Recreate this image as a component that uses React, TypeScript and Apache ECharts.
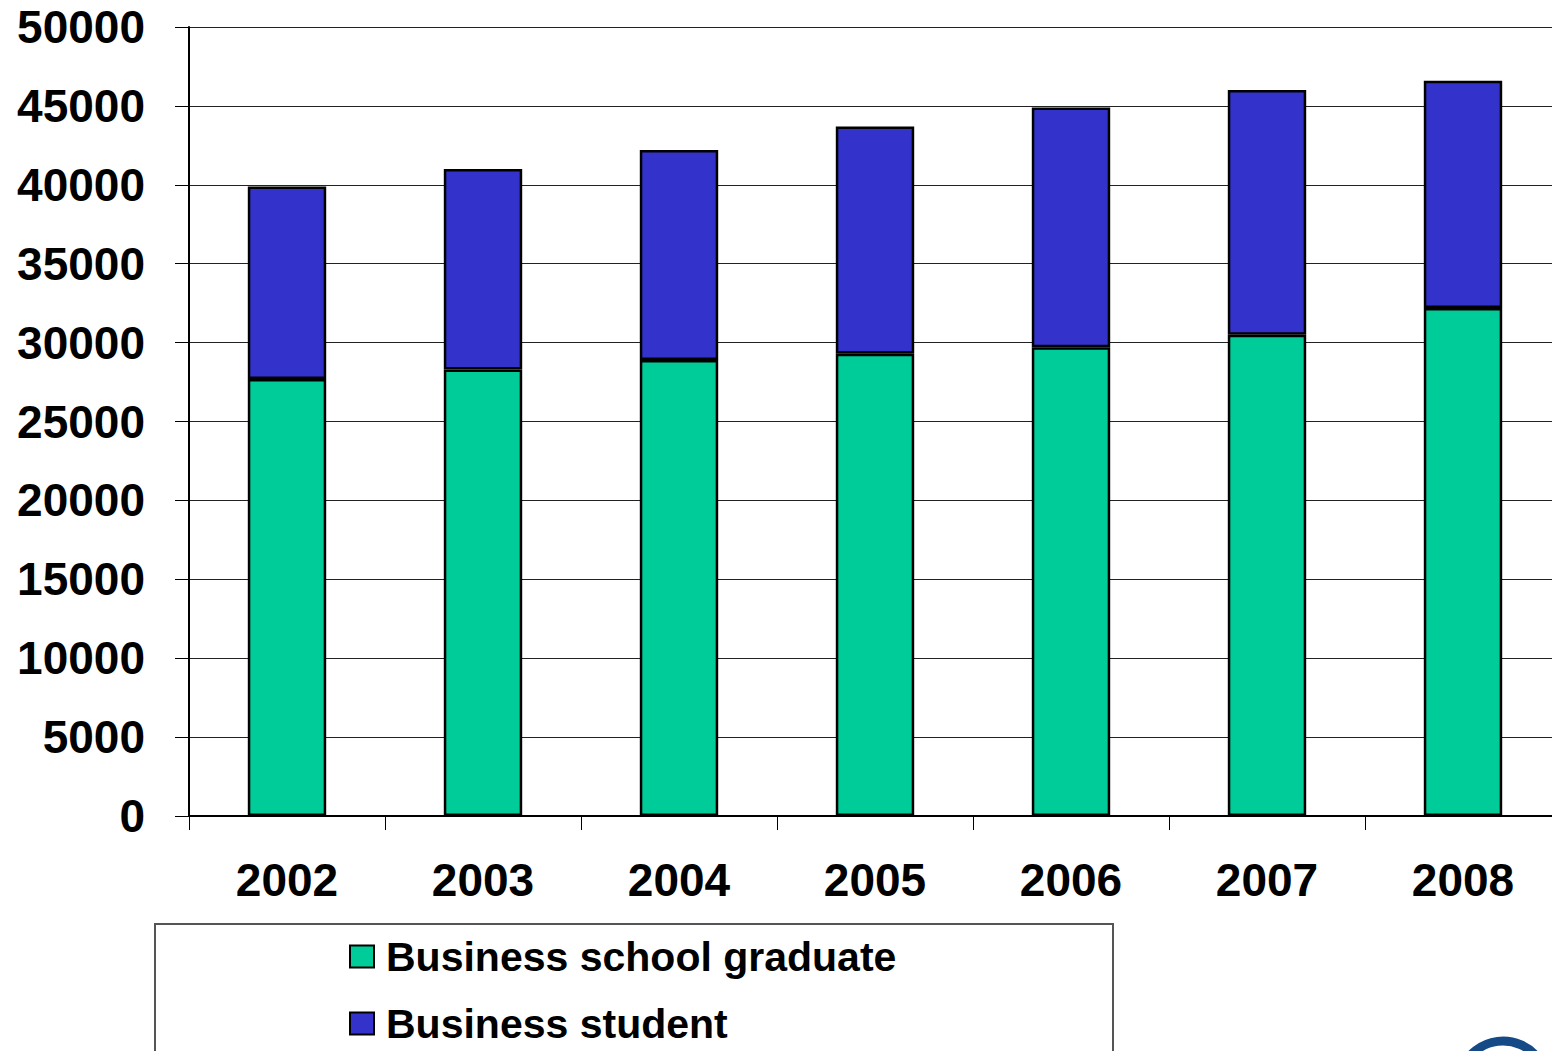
import React, { useEffect, useRef } from "react";
import * as echarts from "echarts";

const years = ["2002", "2003", "2004", "2005", "2006", "2007", "2008"];
const graduates = [27700, 28300, 28900, 29300, 29700, 30500, 32200];
const students = [12200, 12700, 13300, 14400, 15200, 15500, 14400];
const seriesNames = ["Business school graduate", "Business student"];
const seriesColors = ["#00CC99", "#3333CC"];

const FONT = "'Liberation Sans', Arial, sans-serif";

export default function App() {
  const ref = useRef<HTMLDivElement>(null);

  useEffect(() => {
    if (!ref.current) return;
    const chart = echarts.init(ref.current, undefined, { renderer: "svg" });
    const legendText = {
      fontFamily: FONT,
      fontWeight: "bold",
      fontSize: 41,
      color: "#000",
      padding: [0, 0, 0, 7],
    };
    chart.setOption({
      animation: false,
      backgroundColor: "#ffffff",
      grid: { left: 189, top: 27, width: 1372, height: 789, outerBoundsMode: "none", containLabel: false },
      legend: [
        {
          left: 349,
          top: 936,
          padding: 0,
          itemWidth: 24,
          itemHeight: 22,
          icon: "rect",
          textStyle: legendText,
          data: [seriesNames[0]],
        },
        {
          left: 349,
          top: 1003,
          padding: 0,
          itemWidth: 24,
          itemHeight: 22,
          icon: "rect",
          textStyle: legendText,
          data: [seriesNames[1]],
        },
      ],
      xAxis: {
        type: "category",
        data: years,
        boundaryGap: true,
        axisLine: { show: true, lineStyle: { color: "#000", width: 2 } },
        axisTick: { show: true, length: 14, lineStyle: { color: "#000", width: 1 } },
        axisLabel: {
          margin: 41,
          fontFamily: FONT,
          fontWeight: "bold",
          fontSize: 46,
          color: "#000",
        },
        splitLine: { show: false },
      },
      yAxis: {
        type: "value",
        min: 0,
        max: 50000,
        interval: 5000,
        axisLine: { show: true, lineStyle: { color: "#000", width: 2 } },
        axisTick: { show: true, length: 14, lineStyle: { color: "#000", width: 1 } },
        axisLabel: {
          margin: 44,
          fontFamily: FONT,
          fontWeight: "bold",
          fontSize: 46,
          color: "#000",
          formatter: (v: number) => String(v),
        },
        splitLine: { show: true, lineStyle: { color: "#222", width: 1 } },
      },
      series: [
        {
          name: seriesNames[0],
          type: "bar",
          stack: "total",
          barWidth: "40%",
          data: graduates,
          itemStyle: { color: seriesColors[0], borderColor: "#000", borderWidth: 2.5 },
        },
        {
          name: seriesNames[1],
          type: "bar",
          stack: "total",
          barWidth: "40%",
          data: students,
          itemStyle: { color: seriesColors[1], borderColor: "#000", borderWidth: 2.5 },
        },
      ],
      graphic: [
        {
          type: "rect",
          shape: { x: 155, y: 924, width: 958, height: 200 },
          style: { fill: "none", stroke: "#555", lineWidth: 2 },
          silent: true,
        },
        {
          type: "arc",
          shape: { cx: 1503, cy: 1085, r: 44, startAngle: Math.PI * 1.12, endAngle: Math.PI * 1.8 },
          style: { stroke: "#154a86", lineWidth: 9, fill: "none" },
          silent: true,
        },
      ],
    });
    return () => chart.dispose();
  }, []);

  return (
    <div
      ref={ref}
      style={{ position: "fixed", left: 0, top: 0, width: 1552, height: 1051, background: "#fff" }}
    />
  );
}
